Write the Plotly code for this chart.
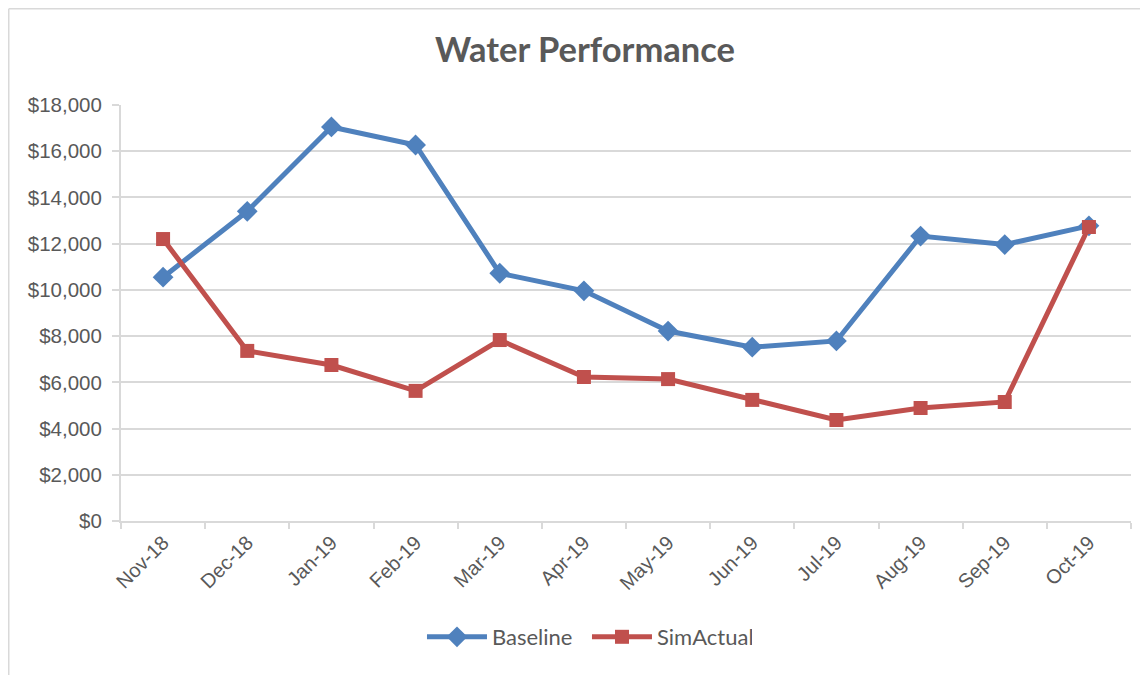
import plotly.graph_objects as go

months = ["Nov-18", "Dec-18", "Jan-19", "Feb-19", "Mar-19", "Apr-19",
          "May-19", "Jun-19", "Jul-19", "Aug-19", "Sep-19", "Oct-19"]
baseline = [10550, 13400, 17050, 16270, 10720, 9960, 8220, 7520, 7790, 12330, 11960, 12770]
sim_actual = [12200, 7360, 6750, 5630, 7830, 6230, 6140, 5240, 4370, 4890, 5150, 12720]
y_ticks = [0, 2000, 4000, 6000, 8000, 10000, 12000, 14000, 16000, 18000]
y_tick_text = ["$0", "$2,000", "$4,000", "$6,000", "$8,000", "$10,000",
               "$12,000", "$14,000", "$16,000", "$18,000"]

BLUE = "#4F81BD"
RED = "#C0504D"
GREY_TEXT = "#595959"
GRID = "#D9D9D9"

W, H = 1140, 667
ML, MR, MT, MB = 113, 17, 97, 154
PW, PH = W - ML - MR, H - MT - MB

fig = go.Figure()
fig.add_trace(go.Scatter(
    x=months, y=baseline, name="Baseline", mode="lines+markers",
    line=dict(color=BLUE, width=5),
    marker=dict(symbol="diamond", size=16, color=BLUE),
))
fig.add_trace(go.Scatter(
    x=months, y=sim_actual, name="SimActual", mode="lines+markers",
    line=dict(color=RED, width=5),
    marker=dict(symbol="square", size=14, color=RED),
))

fig.update_layout(
    width=W, height=H,
    paper_bgcolor="white", plot_bgcolor="white",
    margin=dict(l=ML, r=MR, t=MT, b=MB),
    title=dict(text="<b>Water Performance</b>", x=(577 - ML) / PW, xref="paper",
               xanchor="center", y=1 - 42 / H, yanchor="middle",
               font=dict(family="Lato", size=34.5, color=GREY_TEXT)),
    showlegend=True,
    legend=dict(orientation="h", x=0.298, xanchor="left",
                y=-(629 - MT - PH) / PH, yanchor="middle",
                font=dict(family="Lato", size=22, color=GREY_TEXT),
                itemwidth=60, entrywidth=90, entrywidthmode="pixels",
                traceorder="normal"),
    font=dict(family="Liberation Sans", color=GREY_TEXT),
    shapes=[
        dict(type="line", xref="paper", yref="paper",
             x0=-(ML - 0.75) / PW, x1=-(ML - 0.75) / PW, y0=-1, y1=1 + (MT - 0.75) / PH,
             line=dict(color=GRID, width=1.5)),
        dict(type="line", xref="paper", yref="paper",
             x0=-(ML - 0.75) / PW, x1=1.2, y0=1 + (MT - 0.75) / PH, y1=1 + (MT - 0.75) / PH,
             line=dict(color=GRID, width=1.5)),
    ],
)
fig.update_xaxes(
    type="category", range=[-0.5, 11.5],
    showline=True, linecolor=GRID, linewidth=2,
    ticks="outside", tickson="boundaries", ticklen=6, tickcolor=GRID, tickwidth=2,
    tickangle=-45, tickfont=dict(family="Liberation Sans", size=20, color=GREY_TEXT),
    showgrid=False,
)
fig.update_yaxes(
    range=[0, 18000], tickvals=y_ticks, ticktext=y_tick_text,
    showline=True, linecolor=GRID, linewidth=2,
    ticks="outside", ticklen=7, tickcolor=GRID, tickwidth=2,
    ticklabelstandoff=6,
    showgrid=True, gridcolor=GRID, gridwidth=1.5,
    tickfont=dict(family="Liberation Sans", size=20.5, color=GREY_TEXT),
    zeroline=False,
)

fig.write_html("out.html")
